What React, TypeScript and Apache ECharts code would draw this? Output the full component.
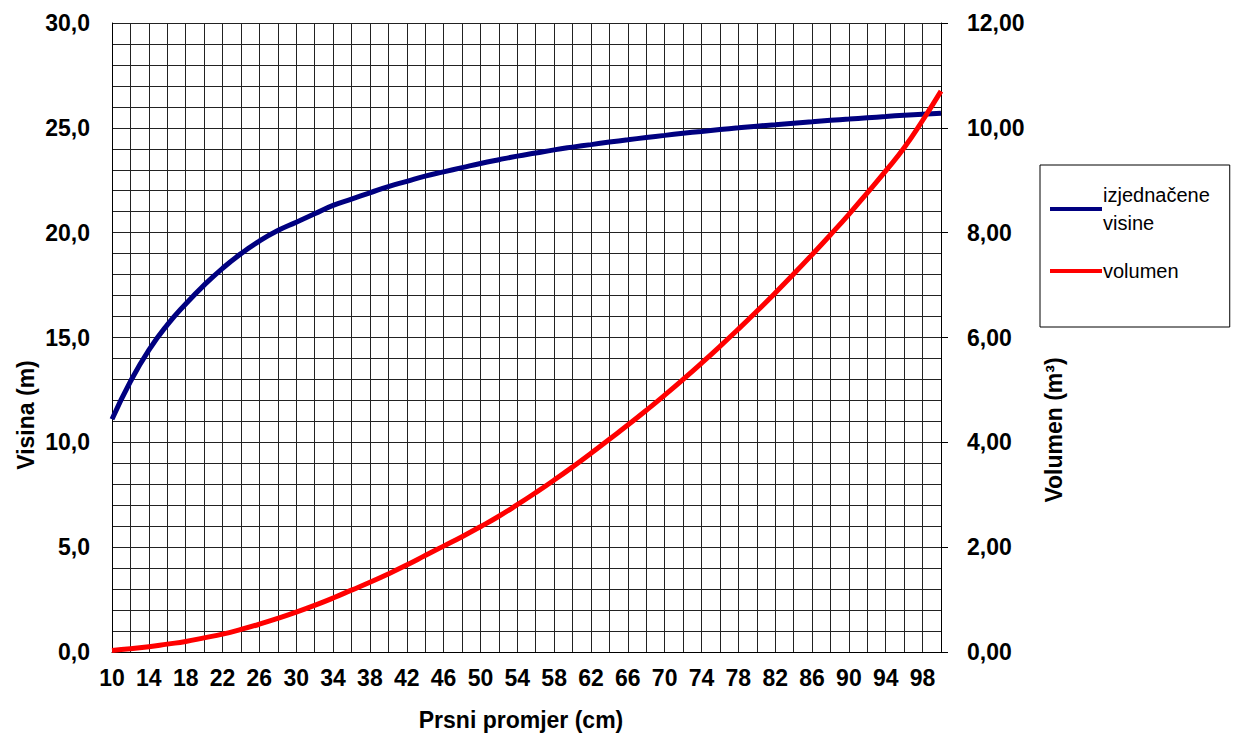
import { useEffect, useRef } from "react";
import * as echarts from "echarts";

const diameters = Array.from({ length: 46 }, (_, i) => String(10 + i * 2));
const heights = [
  11.1, 12.9, 14.4, 15.6, 16.6, 17.5, 18.3, 19.0, 19.6, 20.1, 20.5, 20.9, 21.3, 21.6, 21.9, 22.2,
  22.45, 22.7, 22.9, 23.1, 23.3, 23.48, 23.65, 23.8, 23.95, 24.08, 24.2, 24.32, 24.43, 24.54, 24.64,
  24.74, 24.83, 24.92, 25.0, 25.08, 25.15, 25.22, 25.29, 25.36, 25.42, 25.48, 25.54, 25.6, 25.65, 25.7,
];
const volumes = [
  0.03, 0.06, 0.1, 0.15, 0.2, 0.27, 0.34, 0.43, 0.53, 0.64, 0.76, 0.89, 1.03, 1.18, 1.33, 1.49,
  1.66, 1.84, 2.02, 2.2, 2.39, 2.59, 2.81, 3.04, 3.28, 3.53, 3.79, 4.06, 4.33, 4.61, 4.9, 5.2,
  5.51, 5.83, 6.16, 6.5, 6.85, 7.21, 7.58, 7.96, 8.35, 8.76, 9.18, 9.62, 10.14, 10.7,
];

const FONT = "Liberation Sans, Arial, sans-serif";
const label = { color: "#000", fontSize: 23, fontWeight: "bold" as const, fontFamily: FONT };

export default function App() {
  const ref = useRef<HTMLDivElement>(null);

  useEffect(() => {
    if (!ref.current) return;
    const chart = echarts.init(ref.current, undefined, { renderer: "svg" });
    chart.setOption({
      animation: false,
      backgroundColor: "#fff",
      grid: { left: 112, right: 301, top: 23, bottom: 86 },
      legend: {
        orient: "vertical",
        left: 1040,
        top: 165,
        width: 200,
        height: 140,
        padding: [16, 20, 42, 10],
        itemGap: 20,
        itemWidth: 52,
        itemHeight: 4,
        borderColor: "#000",
        borderWidth: 1,
        icon: "rect",
        textStyle: { fontSize: 20, fontFamily: FONT, color: "#000", lineHeight: 28, padding: [0, 0, 0, -4] },
        formatter: (n: string) => (n === "izjednačene visine" ? "izjednačene\nvisine" : n),
      },
      xAxis: {
        type: "category",
        data: diameters,
        boundaryGap: false,
        axisLine: { lineStyle: { color: "#000" } },
        axisTick: { show: false },
        axisLabel: { ...label, interval: 1, margin: 14 },
        splitLine: { show: true, interval: 0, lineStyle: { color: "#222", width: 1 } },
      },
      yAxis: [
        {
          type: "value",
          min: 0,
          max: 30,
          interval: 1,
          axisLine: { show: true, lineStyle: { color: "#000" } },
          axisTick: { show: false },
          axisLabel: {
            ...label,
            margin: 22,
            formatter: (v: number) => (v % 5 === 0 ? v.toFixed(1).replace(".", ",") : ""),
          },
          splitLine: { lineStyle: { color: "#222", width: 1 } },
        },
        {
          type: "value",
          min: 0,
          max: 12,
          interval: 2,
          axisLine: { show: true, lineStyle: { color: "#000" } },
          axisTick: { show: true, length: 7, lineStyle: { color: "#000" } },
          axisLabel: { ...label, margin: 26, formatter: (v: number) => v.toFixed(2).replace(".", ",") },
          splitLine: { show: false },
        },
      ],
      graphic: [
        {
          type: "text",
          x: 26,
          y: 415,
          rotation: Math.PI / 2,
          style: { text: "Visina (m)", ...label, textAlign: "center", textVerticalAlign: "middle" },
        },
        {
          type: "text",
          x: 1054,
          y: 430,
          rotation: Math.PI / 2,
          style: { text: "Volumen (m³)", ...label, textAlign: "center", textVerticalAlign: "middle" },
        },
        {
          type: "text",
          x: 521,
          y: 720,
          style: { text: "Prsni promjer (cm)", ...label, textAlign: "center", textVerticalAlign: "middle" },
        },
      ],
      series: [
        {
          name: "izjednačene visine",
          type: "line",
          data: heights,
          smooth: true,
          showSymbol: false,
          lineStyle: { color: "#000080", width: 5 },
          itemStyle: { color: "#000080" },
        },
        {
          name: "volumen",
          type: "line",
          yAxisIndex: 1,
          data: volumes,
          smooth: true,
          showSymbol: false,
          lineStyle: { color: "#ff0000", width: 5 },
          itemStyle: { color: "#ff0000" },
        },
      ],
    });
    return () => chart.dispose();
  }, []);

  return <div ref={ref} style={{ position: "fixed", left: 0, top: 0, width: 1242, height: 738 }} />;
}
